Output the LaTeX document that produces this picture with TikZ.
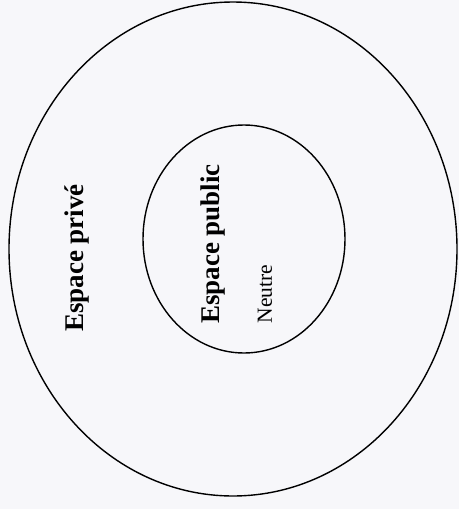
\documentclass[tikz,border=0pt]{standalone}
\usepackage{fontspec}
\setmainfont{Liberation Serif}
\begin{document}
\begin{tikzpicture}[x=1pt,y=-1pt,
  ring/.style={draw=black,line width=1.4pt},
  bigtxt/.style={font=\fontsize{27}{31}\selectfont\bfseries,rotate=90,inner sep=0pt},
  smalltxt/.style={font=\fontsize{21.5}{25}\selectfont,rotate=90,inner sep=0pt}]
\definecolor{paper}{RGB}{247,247,250}
\fill[paper] (0,0) rectangle (459,509);
\useasboundingbox (0,0) rectangle (459,509);
\draw[ring] (233,249) ellipse [x radius=224, y radius=247];
\draw[ring] (244,239) ellipse [x radius=101, y radius=114];
\node[bigtxt] (prive) at (77,258) {Espace privé};
\node[bigtxt] (public) at (213,244) {Espace public};
\node[smalltxt] (neutre) at (265,294) {Neutre};
\end{tikzpicture}
\end{document}
